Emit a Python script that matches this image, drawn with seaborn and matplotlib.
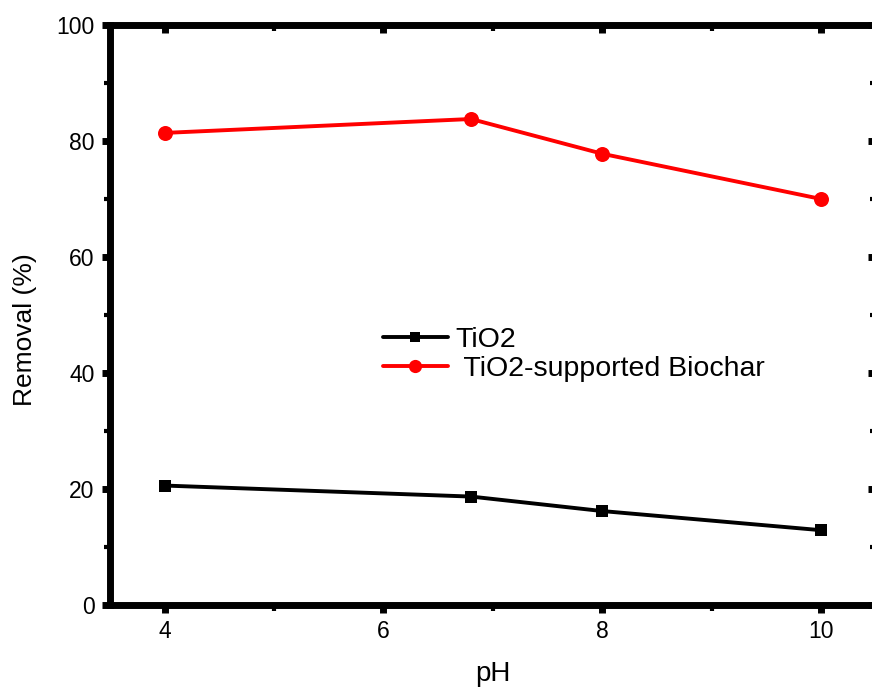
import matplotlib
matplotlib.use("Agg")
import matplotlib.pyplot as plt
import seaborn as sns
import pandas as pd
from matplotlib.ticker import MultipleLocator

ph = [4, 6.8, 8, 10]
tio2 = [20.6, 18.7, 16.2, 12.9]
biochar = [81.4, 83.8, 77.8, 70.0]
labels = ["TiO2", " TiO2-supported Biochar"]

df = pd.DataFrame({
    "pH": ph + ph,
    "Removal": tio2 + biochar,
    "Series": [labels[0]] * len(ph) + [labels[1]] * len(ph),
})

sns.set_style("ticks", rc={"axes.edgecolor": "black", "text.color": "black",
                           "axes.labelcolor": "black", "xtick.color": "black",
                           "ytick.color": "black"})
plt.rcParams['font.family'] = ['Liberation Sans', 'DejaVu Sans']

fig = plt.figure(figsize=(8.72, 6.88), dpi=100)
ax = fig.add_axes([0.126, 0.1206, 0.8786, 0.843])

sns.lineplot(data=df, x="pH", y="Removal", hue="Series", style="Series",
             markers=["s", "o"], dashes=False,
             palette=["black", "#ff0000"], linewidth=2.8, markersize=9,
             markeredgewidth=0, ax=ax)

msizes = [9.3, 10.8]
for line, ms in zip(ax.lines[:2], msizes):
    line.set_markersize(ms)

ax.set_xlim(3.5, 10.5)
ax.set_ylim(0, 100)
ax.xaxis.set_major_locator(MultipleLocator(2))
ax.xaxis.set_minor_locator(MultipleLocator(1))
ax.yaxis.set_major_locator(MultipleLocator(20))
ax.yaxis.set_minor_locator(MultipleLocator(10))

for name, s in ax.spines.items():
    s.set_linewidth(5.0)
    s.set_visible(True)

ax.tick_params(which="major", direction="out", length=6, width=5,
               labelsize=16.5, pad=5, top=True, right=True)
ax.tick_params(which="minor", direction="out", length=4.5, width=3,
               top=True, right=True)
for t in ax.xaxis.get_major_ticks() + ax.xaxis.get_minor_ticks():
    t.tick2line.set_marker(3)  # inward on top
for t in ax.yaxis.get_major_ticks() + ax.yaxis.get_minor_ticks():
    t.tick2line.set_marker(0)  # inward on right

ax.set_xlabel("pH", fontsize=20, labelpad=13)
ax.set_ylabel("Removal (%)", fontsize=19, labelpad=14)
ax.yaxis.label.set_y(0.474)

old = ax.get_legend()
handles = old.legend_handles
for h, ms in zip(handles, [7.5, 9.5]):
    h.set_markersize(ms)
    h.set_linewidth(2.8)
old.remove()
ax.legend(handles, labels, loc="center left", bbox_to_anchor=(0.356, 0.432),
          frameon=False, fontsize=20.5, handlelength=2.3, handletextpad=0.27,
          labelspacing=0.1, borderaxespad=0, borderpad=0)

fig.savefig("out.png", dpi=100)
